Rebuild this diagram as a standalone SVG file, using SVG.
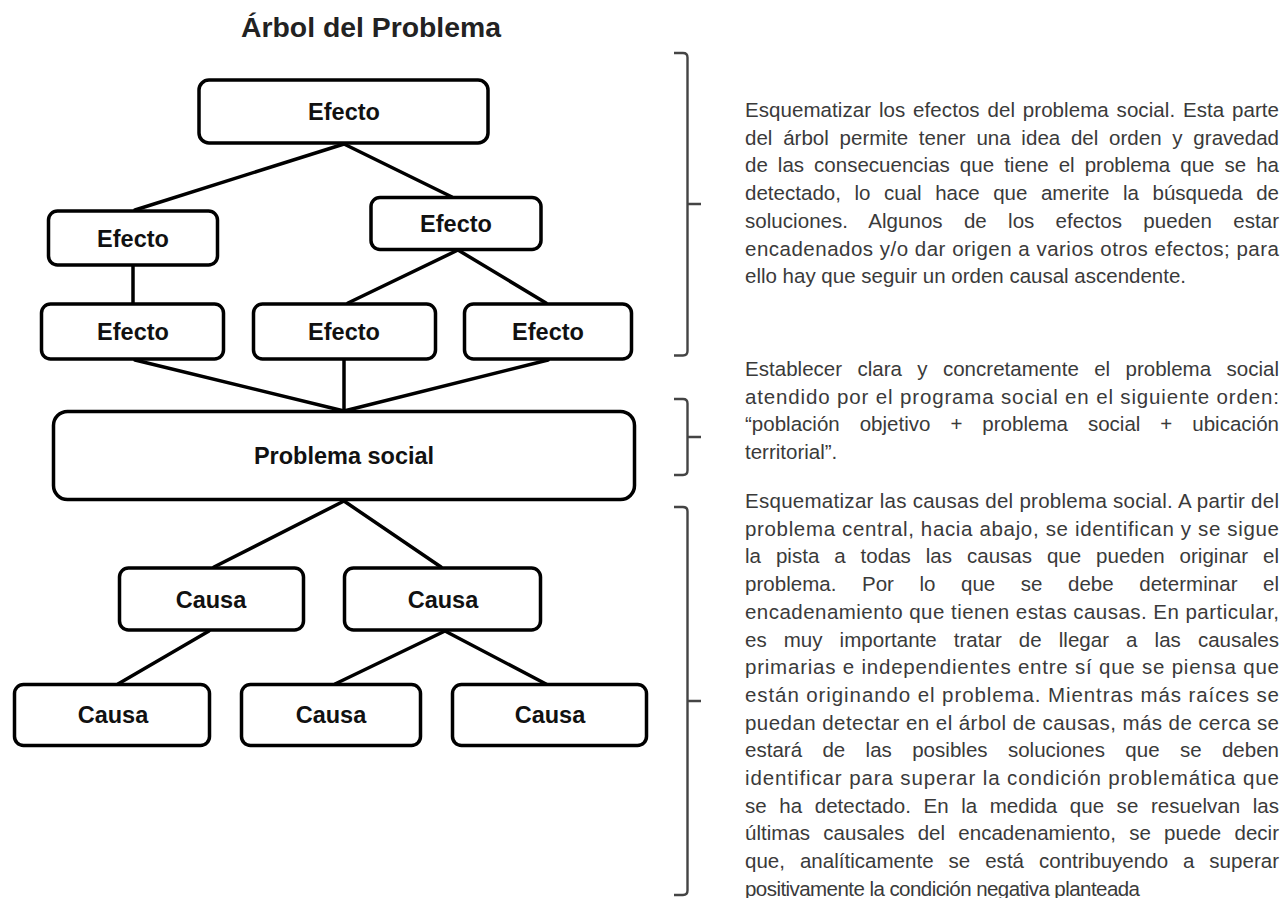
<svg xmlns="http://www.w3.org/2000/svg" width="1283" height="898" viewBox="0 0 1283 898">
<style>
.box{fill:#fff;stroke:#000;stroke-width:3.5}
.lbl{font-family:"Liberation Sans",Arial,sans-serif;font-weight:bold;font-size:23.5px;fill:#111;text-anchor:middle}
.title{font-family:"Liberation Sans",Arial,sans-serif;font-weight:bold;font-size:27px;fill:#222;text-anchor:middle}
.con line{stroke:#000;stroke-width:3.5;stroke-linecap:round}
.br{fill:none;stroke:#444;stroke-width:2.4}
.txt{font-family:"Liberation Sans",Arial,sans-serif;font-size:20.5px;fill:#3a3a3a}
</style>
<rect width="1283" height="898" fill="#fff"/>
<text class="title" x="371" y="37" textLength="260" lengthAdjust="spacingAndGlyphs">Árbol del Problema</text>

<g class="con" id="connectors">
<line x1="344" y1="144" x2="135" y2="210"/>
<line x1="344" y1="144" x2="452" y2="197"/>
<line x1="133" y1="266" x2="133" y2="303"/>
<line x1="458" y1="250" x2="348" y2="303"/>
<line x1="458" y1="250" x2="546" y2="303"/>
<line x1="135" y1="360" x2="344" y2="411"/>
<line x1="344" y1="360" x2="344" y2="411"/>
<line x1="548" y1="360" x2="344" y2="411"/>
<line x1="344" y1="501" x2="214" y2="567"/>
<line x1="344" y1="501" x2="441" y2="567"/>
<line x1="209" y1="631" x2="118" y2="684"/>
<line x1="445" y1="631" x2="335" y2="684"/>
<line x1="445" y1="631" x2="546" y2="684"/>
</g>

<g id="efecto-top"><rect class="box" x="199" y="80" width="289" height="63" rx="10"/><text class="lbl" x="344" y="120">Efecto</text></g>
<g id="efecto-l2-left"><rect class="box" x="48.5" y="211" width="169" height="54" rx="9"/><text class="lbl" x="133" y="246.5">Efecto</text></g>
<g id="efecto-l2-right"><rect class="box" x="371" y="197.5" width="170" height="52" rx="9"/><text class="lbl" x="456" y="231.5">Efecto</text></g>
<g id="efecto-l3-left"><rect class="box" x="41.5" y="304" width="182" height="55" rx="9"/><text class="lbl" x="133" y="340">Efecto</text></g>
<g id="efecto-l3-mid"><rect class="box" x="253.5" y="304" width="182" height="55" rx="9"/><text class="lbl" x="344" y="340">Efecto</text></g>
<g id="efecto-l3-right"><rect class="box" x="464.5" y="304" width="167" height="55" rx="9"/><text class="lbl" x="548" y="340">Efecto</text></g>
<g id="problema"><rect class="box" x="53.5" y="411.5" width="581" height="88" rx="14"/><text class="lbl" x="344" y="464">Problema social</text></g>
<g id="causa-l1-left"><rect class="box" x="119.5" y="568" width="184" height="62" rx="9"/><text class="lbl" x="211" y="607.5">Causa</text></g>
<g id="causa-l1-right"><rect class="box" x="344.5" y="568" width="196" height="62" rx="9"/><text class="lbl" x="443" y="607.5">Causa</text></g>
<g id="causa-l2-left"><rect class="box" x="14.5" y="684.5" width="195" height="61" rx="9"/><text class="lbl" x="113" y="723">Causa</text></g>
<g id="causa-l2-mid"><rect class="box" x="241.5" y="684.5" width="179" height="61" rx="9"/><text class="lbl" x="331" y="723">Causa</text></g>
<g id="causa-l2-right"><rect class="box" x="452.5" y="684.5" width="194" height="61" rx="9"/><text class="lbl" x="550" y="723">Causa</text></g>

<g id="brackets">
<path class="br" d="M674,53 H683 Q687.5,53 687.5,57.5 V351 Q687.5,355.5 683,355.5 H674 M687.5,204 H701"/>
<path class="br" d="M674,399 H683 Q687.5,399 687.5,403.5 V470.5 Q687.5,475 683,475 H674 M687.5,437 H701"/>
<path class="br" d="M674,507 H683 Q687.5,507 687.5,511.5 V890.5 Q687.5,895 683,895 H674 M687.5,701 H701"/>
</g>

<g id="text-efectos" class="txt">
<text x="745" y="117" word-spacing="2" textLength="534" lengthAdjust="spacing">Esquematizar los efectos del problema social. Esta parte</text>
<text x="745" y="144.7" word-spacing="5" textLength="534" lengthAdjust="spacing">del árbol permite tener una idea del orden y gravedad</text>
<text x="745" y="172.4" word-spacing="4.3" textLength="534" lengthAdjust="spacing">de las consecuencias que tiene el problema que se ha</text>
<text x="745" y="200.1" word-spacing="7.8" textLength="534" lengthAdjust="spacing">detectado, lo cual hace que amerite la búsqueda de</text>
<text x="745" y="227.8" word-spacing="15.5" textLength="534" lengthAdjust="spacing">soluciones. Algunos de los efectos pueden estar</text>
<text x="745" y="255.5" textLength="534" lengthAdjust="spacing">encadenados y/o dar origen a varios otros efectos; para</text>
<text x="745" y="283.2">ello hay que seguir un orden causal ascendente.</text>
</g>

<g id="text-problema" class="txt">
<text x="745" y="376" word-spacing="9.6" textLength="534" lengthAdjust="spacing">Establecer clara y concretamente el problema social</text>
<text x="745" y="403.7" textLength="534" lengthAdjust="spacing">atendido por el programa social en el siguiente orden:</text>
<text x="745" y="431.4" word-spacing="14.2" textLength="534" lengthAdjust="spacing">“población objetivo + problema social + ubicación</text>
<text x="745" y="459.1">territorial”.</text>
</g>

<g id="text-causas" class="txt">
<text x="745" y="508" textLength="534" lengthAdjust="spacing">Esquematizar las causas del problema social. A partir del</text>
<text x="745" y="535.7" textLength="534" lengthAdjust="spacing">problema central, hacia abajo, se identifican y se sigue</text>
<text x="745" y="563.4" word-spacing="9.2" textLength="534" lengthAdjust="spacing">la pista a todas las causas que pueden originar el</text>
<text x="745" y="591.1" word-spacing="19.8" textLength="534" lengthAdjust="spacing">problema. Por lo que se debe determinar el</text>
<text x="745" y="618.8" textLength="534" lengthAdjust="spacing">encadenamiento que tienen estas causas.  En particular,</text>
<text x="745" y="646.5" word-spacing="11.3" textLength="534" lengthAdjust="spacing">es muy importante tratar de llegar a las causales</text>
<text x="745" y="674.2" textLength="534" lengthAdjust="spacing">primarias e independientes entre sí que se piensa que</text>
<text x="745" y="701.9" textLength="534" lengthAdjust="spacing">están originando  el problema. Mientras más raíces se</text>
<text x="745" y="729.6" textLength="534" lengthAdjust="spacing">puedan detectar en el árbol de causas, más de cerca se</text>
<text x="745" y="757.3" word-spacing="14.6" textLength="534" lengthAdjust="spacing">estará de las posibles soluciones que se deben</text>
<text x="745" y="785" textLength="534" lengthAdjust="spacing">identificar para superar la condición problemática  que</text>
<text x="745" y="812.7" word-spacing="6.8" textLength="534" lengthAdjust="spacing">se ha detectado. En la medida que se resuelvan las</text>
<text x="745" y="840.4" word-spacing="7.5" textLength="534" lengthAdjust="spacing">últimas causales del encadenamiento, se puede decir</text>
<text x="745" y="868.1" word-spacing="9.2" textLength="534" lengthAdjust="spacing">que, analíticamente se está contribuyendo a superar</text>
<text x="745" y="895.8" textLength="395" lengthAdjust="spacing">positivamente la condición negativa planteada</text>
</g>
</svg>
